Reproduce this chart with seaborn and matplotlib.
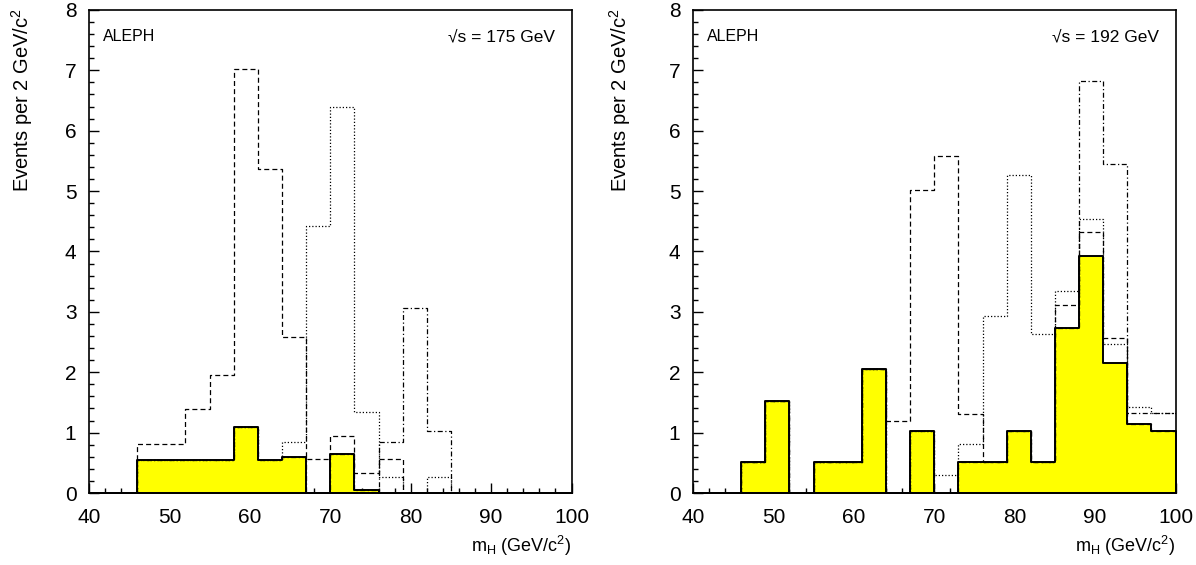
import numpy as np
import pandas as pd
import matplotlib
matplotlib.use("Agg")
import matplotlib.pyplot as plt
from matplotlib.ticker import MultipleLocator
import seaborn as sns

# ── Data (3 GeV bins from 40 to 100) ─────────────────────────────────────────
edges = list(range(40, 101, 3))
centers = [e + 1.5 for e in edges[:-1]]

bkg_175  = [0, 0, 0.54, 0.54, 0.54, 0.54, 1.09, 0.54, 0.60, 0, 0.65, 0.055, 0, 0, 0, 0, 0, 0, 0, 0]
dash_175 = [0, 0, 0.82, 0.82, 1.39, 1.95, 7.03, 5.36, 2.58, 0.56, 0.94, 0.33, 0.56, 0, 0, 0, 0, 0, 0, 0]
dot_175  = [0, 0, 0.54, 0.54, 0.54, 0.54, 1.09, 0.54, 0.85, 4.43, 6.40, 1.35, 0.26, 0, 0.26, 0, 0, 0, 0, 0]
dd_175   = [0, 0, 0.54, 0.54, 0.54, 0.54, 1.09, 0.54, 0.60, 0, 0.65, 0.055, 0.84, 3.06, 1.02, 0, 0, 0, 0, 0]

bkg_192  = [0, 0, 0.51, 1.53, 0, 0.51, 0.51, 2.06, 0, 1.03, 0, 0.51, 0.51, 1.03, 0.51, 2.73, 3.93, 2.16, 1.14, 1.03]
dash_192 = [0, 0, 0.51, 1.53, 0, 0.51, 0.51, 2.06, 1.20, 5.01, 5.58, 1.31, 0.51, 1.03, 0.51, 3.12, 4.33, 2.57, 1.14, 1.03]
dot_192  = [0, 0, 0.51, 1.53, 0, 0.51, 0.51, 2.06, 0, 1.03, 0.30, 0.82, 2.93, 5.26, 2.63, 3.34, 4.53, 2.47, 1.43, 1.32]
dd_192   = [0, 0, 0.51, 1.53, 0, 0.51, 0.51, 2.06, 0, 1.03, 0, 0.51, 0.51, 1.03, 0.51, 2.73, 6.83, 5.45, 1.32, 1.32]

panels = [
    ("√s = 175 GeV", bkg_175, dash_175, dot_175, dd_175),
    ("√s = 192 GeV", bkg_192, dash_192, dot_192, dd_192),
]

# ── Style ────────────────────────────────────────────────────────────────────
sns.set_style("ticks")
plt.rcParams["font.family"] = ["Liberation Sans", "DejaVu Sans"]
plt.rcParams["mathtext.fontset"] = "custom"
plt.rcParams["mathtext.rm"] = "Liberation Sans"
for key in ["text.color", "axes.labelcolor", "xtick.color", "ytick.color"]:
    plt.rcParams[key] = "black"

fig = plt.figure(figsize=(11.96, 5.65), dpi=100)
lefts = [0.0744, 0.5794]
ylab_x = [22 / 1196, 620 / 1196]

for i, (energy, bkg, sig_a, sig_b, sig_c) in enumerate(panels):
    ax = fig.add_axes([lefts[i], 0.1274, 0.4035, 0.855])
    df = pd.DataFrame({"m": centers, "bkg": bkg, "a": sig_a, "b": sig_b, "c": sig_c})

    sns.histplot(data=df, x="m", weights="bkg", bins=edges, element="step", fill=True,
                 color="#ffff00", alpha=1, edgecolor="black", linewidth=1.4, ax=ax)
    sns.histplot(data=df, x="m", weights="a", bins=edges, element="step", fill=False,
                 color="black", linewidth=0.9, linestyle=(0, (4, 2.5)), ax=ax)
    sns.histplot(data=df, x="m", weights="b", bins=edges, element="step", fill=False,
                 color="black", linewidth=0.9, linestyle=(0, (1, 1.6)), ax=ax)
    sns.histplot(data=df, x="m", weights="c", bins=edges, element="step", fill=False,
                 color="black", linewidth=0.9, linestyle=(0, (4, 2, 1, 2)), ax=ax)

    ax.set_xlim(40, 100)
    ax.set_ylim(0, 8)
    ax.set_xlabel("")
    ax.set_ylabel("")
    ax.xaxis.set_major_locator(MultipleLocator(10))
    ax.xaxis.set_minor_locator(MultipleLocator(2))
    ax.yaxis.set_major_locator(MultipleLocator(1))
    ax.yaxis.set_minor_locator(MultipleLocator(0.2))
    ax.tick_params(which="both", direction="in", top=False, right=False, width=1,
                   color="black", labelcolor="black")
    ax.tick_params(which="major", length=7, labelsize=15)
    ax.tick_params(axis="x", which="major", pad=11)
    ax.tick_params(axis="y", which="major", pad=9)
    ax.tick_params(which="minor", length=3.5)
    for sp in ax.spines.values():
        sp.set_visible(True)
        sp.set_linewidth(1.2)
        sp.set_color("black")

    ax.text(0.03, 0.945, "ALEPH", transform=ax.transAxes, fontsize=11.5,
            ha="left", va="center")
    ax.text(0.965, 0.945, energy, transform=ax.transAxes, fontsize=12.5,
            ha="right", va="center")

    fig.text(ylab_x[i], 0.985, "Events per 2 GeV/c$^{2}$", rotation=90,
             ha="center", va="top", fontsize=14.5)
    ax.text(1.0, -0.11, r"m$_{\mathrm{H}}$ (GeV/c$^{2}$)", transform=ax.transAxes,
            ha="right", va="center", fontsize=13)

fig.savefig("out.png", dpi=100)
